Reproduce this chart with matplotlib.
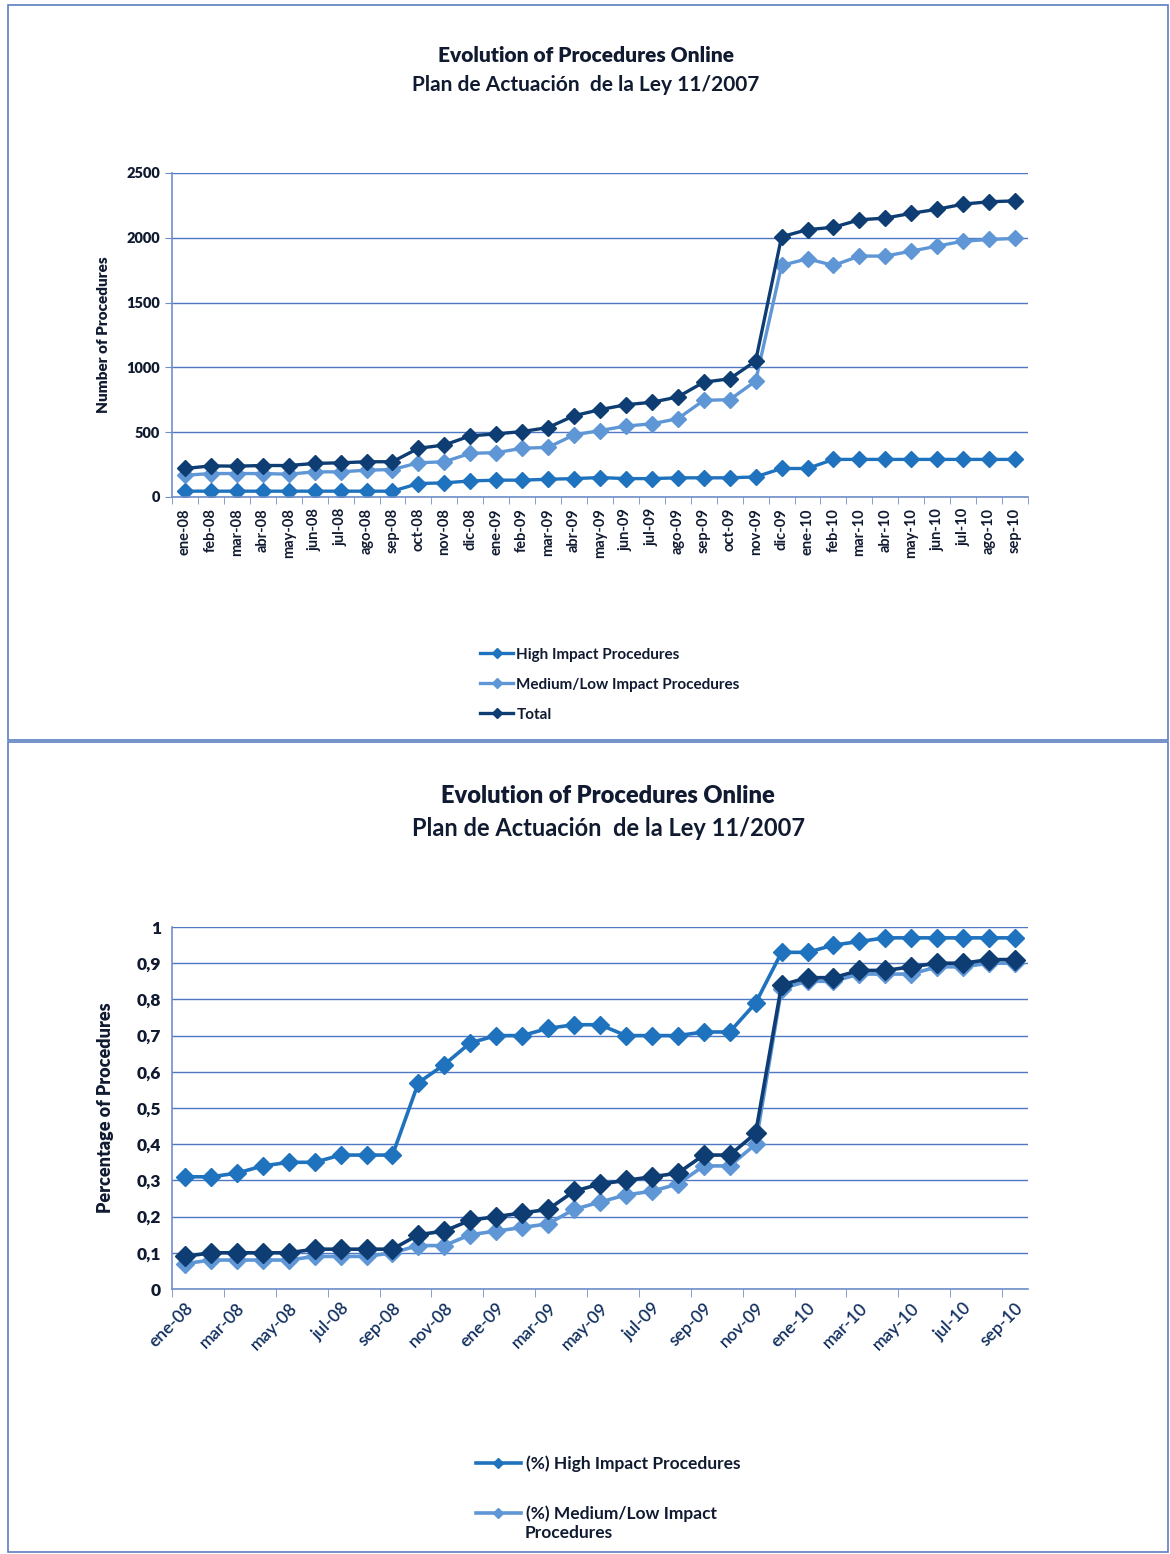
import matplotlib
matplotlib.use("Agg")
import matplotlib.pyplot as plt
from matplotlib.patches import Rectangle

plt.rcParams['font.family'] = ['Lato', 'DejaVu Sans']

months = ['ene-08', 'feb-08', 'mar-08', 'abr-08', 'may-08', 'jun-08', 'jul-08', 'ago-08', 'sep-08',
          'oct-08', 'nov-08', 'dic-08', 'ene-09', 'feb-09', 'mar-09', 'abr-09', 'may-09', 'jun-09',
          'jul-09', 'ago-09', 'sep-09', 'oct-09', 'nov-09', 'dic-09', 'ene-10', 'feb-10', 'mar-10',
          'abr-10', 'may-10', 'jun-10', 'jul-10', 'ago-10', 'sep-10']

# counts (top chart)
high = [45, 45, 45, 45, 45, 45, 45, 45, 45, 104, 109, 124, 130, 130, 137, 142, 150,
        142, 142, 148, 148, 148, 155, 220, 220, 290, 290, 290, 290, 290, 290, 290, 290]
medium = [168, 181, 181, 181, 176, 194, 194, 207, 212, 264, 272, 337, 342, 376, 383, 479, 513,
          547, 565, 604, 746, 751, 894, 1787, 1838, 1787, 1859, 1859, 1897, 1936, 1974, 1987, 1995]
total = [220, 240, 238, 243, 243, 259, 264, 272, 272, 376, 401, 472, 487, 505, 536, 627, 674,
         712, 731, 772, 886, 912, 1049, 2008, 2063, 2081, 2139, 2152, 2189, 2220, 2260, 2278, 2285]

# percentages (bottom chart)
high_pct = [0.31, 0.31, 0.32, 0.34, 0.35, 0.35, 0.37, 0.37, 0.37, 0.57, 0.62, 0.68, 0.70, 0.70,
            0.72, 0.73, 0.73, 0.70, 0.70, 0.70, 0.71, 0.71, 0.79, 0.93, 0.93, 0.95, 0.96, 0.97,
            0.97, 0.97, 0.97, 0.97, 0.97]
total_pct = [0.09, 0.10, 0.10, 0.10, 0.10, 0.11, 0.11, 0.11, 0.11, 0.15, 0.16, 0.19, 0.20, 0.21,
             0.22, 0.27, 0.29, 0.30, 0.31, 0.32, 0.37, 0.37, 0.43, 0.84, 0.86, 0.86, 0.88, 0.88,
             0.89, 0.90, 0.90, 0.91, 0.91]
medium_pct = [0.07, 0.08, 0.08, 0.08, 0.08, 0.09, 0.09, 0.09, 0.10, 0.12, 0.12, 0.15, 0.16, 0.17,
              0.18, 0.22, 0.24, 0.26, 0.27, 0.29, 0.34, 0.34, 0.40, 0.83, 0.85, 0.85, 0.87, 0.87,
              0.87, 0.89, 0.89, 0.90, 0.90]

c_high = '#1f72bd'
c_med = '#5f97d6'
c_total = '#0e3d74'
c_grid = '#4f78c4'
c_text = '#101a30'
c_tick = '#12305f'

W, H = 1170, 1554
fig = plt.figure(figsize=(W / 100, H / 100), dpi=100)

def fx(px):
    return px / W

def fy(py):
    return 1 - py / H

# panel borders
for (x0, y0, x1, y1) in [(8, 5, 1168, 740), (8, 742, 1168, 1552)]:
    fig.add_artist(Rectangle((fx(x0), fy(y1)), fx(x1 - x0), (y1 - y0) / H,
                             transform=fig.transFigure, fill=False, ec='#5b7fc0', lw=1.2))

x = list(range(len(months)))

def style_axes(ax):
    for s in ['top', 'right']:
        ax.spines[s].set_visible(False)
    for s in ['left', 'bottom']:
        ax.spines[s].set_color('#6f8fca')
        ax.spines[s].set_linewidth(1.2)
    ax.grid(axis='y', color=c_grid, lw=1.0)
    ax.set_axisbelow(True)
    ax.set_xlim(-0.5, len(months) - 0.5)

# ---- top chart ----
ax1 = fig.add_axes([fx(172), fy(497), fx(1028 - 172), (497 - 173) / H])
style_axes(ax1)
ax1.plot(x, high, color=c_high, marker='D', ms=8, lw=2.4, label='High Impact Procedures')
ax1.plot(x, medium, color=c_med, marker='D', ms=8, lw=2.4, label='Medium/Low Impact Procedures')
ax1.plot(x, total, color=c_total, marker='D', ms=8, lw=2.4, label='Total')
ax1.set_ylim(0, 2500)
ax1.set_yticks([0, 500, 1000, 1500, 2000, 2500])
ax1.set_yticklabels(['0', '500', '1000', '1500', '2000', '2500'], fontsize=10.5, fontweight='heavy', color=c_text)
ax1.set_xticks(x)
ax1.set_xticklabels(months, rotation=90, fontsize=10.5, fontweight='bold', color=c_text)
ax1.tick_params(axis='x', length=0, pad=8)
ax1.set_xticks([i - 0.5 for i in range(len(months) + 1)], minor=True)
ax1.tick_params(axis='x', which='minor', length=5, color='#6f8fca')
ax1.tick_params(axis='y', length=5, color='#6f8fca')
ax1.set_ylabel('Number of Procedures', fontsize=11, fontweight='heavy', color=c_text, labelpad=12)
fig.text(fx(586), fy(55), 'Evolution of Procedures Online', ha='center', va='center',
         fontsize=15, fontweight='heavy', color=c_text)
fig.text(fx(586), fy(85), 'Plan de Actuación  de la Ley 11/2007', ha='center', va='center',
         fontsize=15, fontweight='bold', color=c_text)
ax1.legend(loc='upper left', bbox_to_anchor=(fx(466), fy(634)), bbox_transform=fig.transFigure,
           frameon=False, prop={'size': 11, 'weight': 'bold'}, handlelength=2.2,
           handletextpad=0.2, labelspacing=1.05, markerscale=0.6, labelcolor=c_text)

# ---- bottom chart ----
ax2 = fig.add_axes([fx(172), fy(1289), fx(1028 - 172), (1289 - 927) / H])
style_axes(ax2)
ax2.plot(x, high_pct, color=c_high, marker='D', ms=9, lw=2.6, label='(%) High Impact Procedures')
ax2.plot(x, medium_pct, color=c_med, marker='D', ms=9, lw=2.6, label='(%) Medium/Low Impact')
ax2.plot(x, total_pct, color=c_total, marker='D', ms=10, lw=2.6)
ax2.set_ylim(0, 1)
yt = [i / 10 for i in range(11)]
ax2.set_yticks(yt)
ax2.set_yticklabels(['0'] + ['0,%d' % i for i in range(1, 10)] + ['1'], fontsize=12.5,
                    fontweight='heavy', color=c_text)
ax2.set_xticks(x[::2])
ax2.set_xticklabels(months[::2], rotation=45, ha='right', rotation_mode='anchor', fontsize=12.5,
                    fontweight='semibold', color=c_tick)
ax2.tick_params(axis='x', length=0, pad=8)
ax2.set_xticks([i - 0.5 for i in range(0, len(months) + 1, 2)], minor=True)
ax2.tick_params(axis='x', which='minor', length=6, color='#6f8fca')
ax2.tick_params(axis='y', length=0, pad=8)
ax2.set_ylabel('Percentage of Procedures', fontsize=13, fontweight='heavy', color=c_text, labelpad=16)
fig.text(fx(608), fy(796), 'Evolution of Procedures Online', ha='center', va='center',
         fontsize=17, fontweight='heavy', color=c_text)
fig.text(fx(608), fy(829), 'Plan de Actuación  de la Ley 11/2007', ha='center', va='center',
         fontsize=17, fontweight='bold', color=c_text)
ax2.legend(loc='upper left', bbox_to_anchor=(fx(460), fy(1440)), bbox_transform=fig.transFigure,
           frameon=False, prop={'size': 12.5, 'weight': 'bold'}, handlelength=2.6,
           handletextpad=0.3, labelspacing=1.9, markerscale=0.6, labelcolor=c_text)
fig.text(fx(525), fy(1533), 'Procedures', ha='left', va='center', fontsize=12.5,
         fontweight='bold', color=c_text)

fig.savefig('out.png', dpi=100, facecolor='white')
